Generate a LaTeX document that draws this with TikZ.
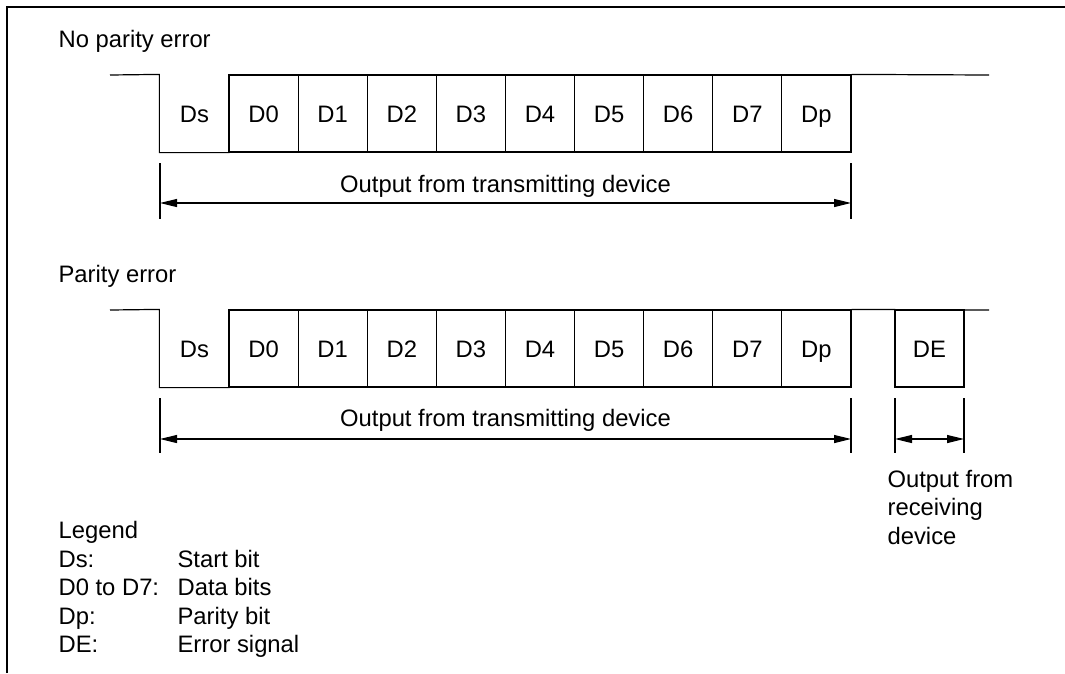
\documentclass[tikz,border=0pt]{standalone}
\usepackage{fontspec}
\setmainfont{Liberation Sans}
\usetikzlibrary{arrows.meta,positioning}
\tikzset{
  % Base styles
  timing base/.style={
    x=1pt, y=-1pt,
    line width=1.2pt,
    every node/.style={font=\fontsize{23.8}{28.5}\selectfont},
  },
  % Bit cells of the serial frame
  bit cell/.style={rectangle, draw, line width=1.2pt, minimum width=69.1pt, minimum height=77pt, inner sep=0pt, text height=17pt, text depth=0pt},
  bit label/.style={rectangle, minimum width=69.1pt, minimum height=77pt, inner sep=0pt, text height=17pt, text depth=0pt},
  % Frame lines and dimensions
  border line/.style={line width=2.4pt},
  dim tick/.style={line width=1.2pt},
  dim arrow/.style={{Triangle[length=17pt,width=8pt]}-{Triangle[length=17pt,width=8pt]}, line width=1.2pt},
  plain text/.style={anchor=base west, inner sep=0pt},
}

\begin{document}
\begin{tikzpicture}[timing base]
\useasboundingbox (0,0) rectangle (1065,673);

% Outer frame (top and left only)
\coordinate (frameBL) at (7,673);
\coordinate (frameTL) at (7,7);
\coordinate (frameTR) at (1065,7);
\draw[border line] (frameBL) -- (frameTL) -- (frameTR);

% --- No parity error ---
\node[plain text] (title1) at (58,47) {No parity error};
\node[bit label] (ds1) at (194.5,113.5) {Ds};
\foreach \lab [count=\i] in {D0,D1,D2,D3,D4,D5,D6,D7,Dp}
  \node[bit cell] (a\i) at ({194.5+69.1*\i},113.5) {\lab};

\coordinate (hi1L) at (110,75);
\coordinate (hi1R) at (989,75);
\draw (hi1L) -- (ds1.north west) -- (ds1.south west) -- (ds1.south east);
\draw (a9.north east) -- (hi1R);

% Transmit span
\coordinate (t1L) at (160,163);
\coordinate (t1R) at (851,163);
\draw[dim tick] (t1L) -- ++(0,56);
\draw[dim tick] (t1R) -- ++(0,56);
\coordinate (m1L) at (160,203);
\coordinate (m1R) at (851,203);
\draw[dim arrow] (m1L) -- (m1R);
\node[anchor=base, inner sep=0pt] (tx1) at (505.5,192) {Output from transmitting device};

% --- Parity error ---
\node[plain text] (title2) at (58,282.5) {Parity error};
\node[bit label] (ds2) at (194.5,348.5) {Ds};
\foreach \lab [count=\i] in {D0,D1,D2,D3,D4,D5,D6,D7,Dp}
  \node[bit cell] (b\i) at ({194.5+69.1*\i},348.5) {\lab};
\node[bit cell] (de) at (929.5,348.5) {DE};

\coordinate (hi2L) at (110,310);
\coordinate (hi2R) at (989,310);
\draw (hi2L) -- (ds2.north west) -- (ds2.south west) -- (ds2.south east);
\draw (b9.north east) -- (hi2R);

% Transmit span
\coordinate (t2L) at (160,398);
\coordinate (t2R) at (851,398);
\draw[dim tick] (t2L) -- ++(0,55);
\draw[dim tick] (t2R) -- ++(0,55);
\coordinate (m2L) at (160,439);
\coordinate (m2R) at (851,439);
\draw[dim arrow] (m2L) -- (m2R);
\node[anchor=base, inner sep=0pt] (tx2) at (505.5,426) {Output from transmitting device};

% Receive span
\coordinate (r2L) at (895,398);
\coordinate (r2R) at (964,398);
\draw[dim tick] (r2L) -- ++(0,55);
\draw[dim tick] (r2R) -- ++(0,55);
\coordinate (n2L) at (895,439);
\coordinate (n2R) at (964,439);
\draw[dim arrow] (n2L) -- (n2R);
\node[anchor=north west, align=left, inner sep=0pt] (rx2) at (887,469.5) {Output from\\receiving\\device};

% Legend
\node[plain text] (legend) at (58,538.5) {Legend};
\foreach \key/\desc/\y [count=\i] in {Ds:/Start bit/567, D0 to D7:/Data bits/595.5, Dp:/Parity bit/624, DE:/Error signal/652.5}{
  \node[plain text] (key\i) at (58,\y) {\key};
  \node[plain text] (desc\i) at (177,\y) {\desc};
}
\end{tikzpicture}
\end{document}
